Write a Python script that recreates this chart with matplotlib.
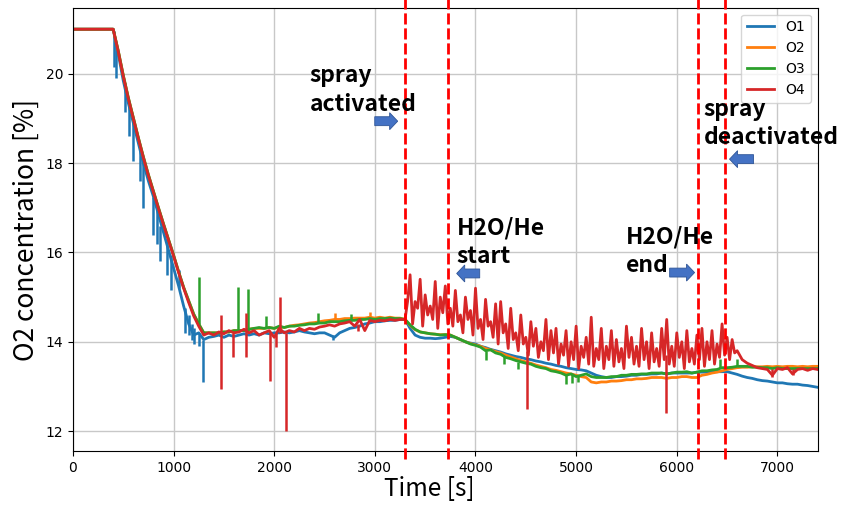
import numpy as np
import matplotlib
matplotlib.use('Agg')
import matplotlib.pyplot as plt
from matplotlib.patches import FancyArrow

# time grid of the sampled values (s)
t = np.arange(0, 7401, 50)
# extra red samples between the grid points in the noisy part
t_extra = np.arange(3325, 6600, 50)

flat = [21.0] * 9  # 0..400 s

# O1 (blue)
o1 = flat + [
    20.45, 19.85, 19.35, 18.9, 18.45, 18.0, 17.6, 17.25, 16.85, 16.45, 16.05, 15.65, 15.25, 14.8, 14.4, 14.15, 14.2, 14.05,
    14.1, 14.12, 14.15, 14.1, 14.15, 14.12, 14.15, 14.18, 14.15, 14.18,
    14.15, 14.2, 14.18, 14.2, 14.2, 14.22, 14.2, 14.22, 14.25, 14.22,
    14.2, 14.18, 14.2, 14.2, 14.15, 14.1, 14.2, 14.25, 14.3, 14.32,
    14.35, 14.4, 14.42, 14.45, 14.45, 14.47, 14.48, 14.48, 14.5,
    14.5, 14.3, 14.15, 14.1, 14.08, 14.08, 14.07, 14.08, 14.1, 14.12,
    14.1, 14.05, 14.0, 13.97, 13.95, 13.9, 13.87, 13.83, 13.8, 13.77,
    13.73, 13.7, 13.67, 13.65, 13.62, 13.6, 13.57, 13.55, 13.52, 13.5,
    13.47, 13.45, 13.42, 13.4, 13.38, 13.37, 13.35, 13.3, 13.25, 13.22,
    13.2, 13.2, 13.22, 13.22, 13.23, 13.25, 13.25, 13.27, 13.27, 13.28,
    13.28, 13.3, 13.28, 13.3, 13.3, 13.3, 13.3, 13.3, 13.32, 13.32,
    13.32, 13.33, 13.33, 13.33, 13.33, 13.3, 13.27,
    13.23, 13.2, 13.18, 13.15, 13.13, 13.12, 13.1, 13.08, 13.08, 13.06, 13.05, 13.05, 13.03, 13.02, 13.0, 12.98,
]

# O2 (orange)
o2 = flat + [
    20.52, 19.97, 19.47, 19.02, 18.57, 18.14, 17.74, 17.37, 17.0, 16.64, 16.29, 15.94, 15.57, 15.22, 14.92, 14.62, 14.4, 14.2,
    14.2, 14.2, 14.2, 14.22, 14.22, 14.25, 14.25, 14.25, 14.28, 14.3,
    14.3, 14.3, 14.32, 14.3, 14.33, 14.32, 14.35, 14.37, 14.38, 14.4,
    14.42, 14.43, 14.45, 14.47, 14.48, 14.5, 14.5, 14.52, 14.52, 14.53,
    14.53, 14.53, 14.55, 14.53, 14.55, 14.53, 14.55, 14.53, 14.53,
    14.5, 14.37, 14.27, 14.22, 14.2, 14.18, 14.17, 14.16, 14.16, 14.15,
    14.1, 14.05, 14.0, 13.96, 13.93, 13.9, 13.85, 13.82, 13.78, 13.75,
    13.7, 13.66, 13.62, 13.58, 13.55, 13.52, 13.48, 13.45, 13.42, 13.38,
    13.36, 13.33, 13.3, 13.28, 13.25, 13.22, 13.2, 13.1, 13.08, 13.1,
    13.1, 13.12, 13.12, 13.13, 13.15, 13.15, 13.17, 13.17, 13.18, 13.2,
    13.2, 13.2, 13.18, 13.2, 13.2, 13.22, 13.22, 13.2, 13.2, 13.25,
    13.27, 13.3, 13.32, 13.35, 13.38, 13.4, 13.42,
    13.43, 13.43, 13.44, 13.44, 13.44, 13.45, 13.44, 13.45, 13.44, 13.45, 13.45, 13.44, 13.45, 13.44, 13.45, 13.45,
]

# O3 (green)
o3 = flat + [
    20.52, 19.97, 19.47, 19.02, 18.57, 18.14, 17.74, 17.37, 17.0, 16.64, 16.29, 15.94, 15.57, 15.22, 14.92, 14.62, 14.4, 14.2,
    14.2, 14.2, 14.2, 14.22, 14.22, 14.25, 14.25, 14.25, 14.28, 14.3,
    14.32, 14.3, 14.32, 14.3, 14.35, 14.32, 14.35, 14.35, 14.37, 14.38,
    14.4, 14.4, 14.42, 14.42, 14.45, 14.45, 14.45, 14.47, 14.48, 14.48,
    14.5, 14.5, 14.52, 14.5, 14.52, 14.52, 14.53, 14.52, 14.52,
    14.5, 14.38, 14.28, 14.22, 14.2, 14.18, 14.17, 14.15, 14.16, 14.15,
    14.1, 14.05, 14.0, 13.95, 13.92, 13.88, 13.8, 13.82, 13.75, 13.72,
    13.65, 13.62, 13.58, 13.55, 13.52, 13.5, 13.45, 13.42, 13.4, 13.35,
    13.33, 13.3, 13.25, 13.28, 13.22, 13.25, 13.28, 13.22, 13.2, 13.2,
    13.2, 13.22, 13.22, 13.25, 13.25, 13.27, 13.27, 13.28, 13.28, 13.3,
    13.3, 13.3, 13.28, 13.3, 13.32, 13.32, 13.33, 13.3, 13.32, 13.35,
    13.35, 13.37, 13.38, 13.42, 13.42, 13.43, 13.45,
    13.45, 13.45, 13.43, 13.43, 13.42, 13.42, 13.4, 13.42, 13.4, 13.4, 13.4, 13.4, 13.4, 13.4, 13.4, 13.4,
]

# O4 (red)
o4 = flat + [
    20.5, 19.95, 19.45, 19.0, 18.55, 18.12, 17.72, 17.35, 16.98, 16.62, 16.27, 15.92, 15.55, 15.2, 14.88, 14.58, 14.35, 14.15,
    14.2, 14.15, 14.22, 14.18, 14.25, 14.2, 14.22, 14.28, 14.2, 14.25,
    14.15, 14.2, 14.25, 14.1, 14.3, 14.2, 14.25, 14.22, 14.3, 14.25,
    14.3, 14.28, 14.33, 14.35, 14.38, 14.35, 14.4, 14.42, 14.45, 14.35,
    14.5, 14.25, 14.48, 14.45, 14.48, 14.47, 14.5, 14.48, 14.5,
    14.5, 15.5, 14.9, 15.4, 15.05, 14.8, 15.35, 15.0, 15.25, 14.75,
    15.15, 14.6, 15.0, 14.7, 15.2, 14.5, 14.95, 14.45, 14.85, 14.9,
    14.4, 14.75, 14.2, 14.6, 14.1, 14.45, 14.3, 14.0, 14.5, 14.25,
    14.3, 13.95, 14.25, 14.0, 14.35, 13.9, 14.1, 14.55, 13.85, 14.3,
    13.9, 14.25, 14.05, 13.85, 14.35, 14.1, 13.9, 14.3, 14.0, 14.2,
    13.85, 14.3, 14.5, 13.9, 14.2, 14.0, 14.25, 13.85, 14.15, 14.3,
    14.0, 14.25, 13.95, 14.4, 14.1, 14.05, 13.8,
    13.6, 13.52, 13.47, 13.42, 13.4, 13.38, 13.25, 13.4, 13.38, 13.42, 13.28, 13.38, 13.4, 13.36, 13.4, 13.38,
]
o4_extra = [
    14.9, 14.4, 14.75, 14.35, 14.6, 14.5, 14.3, 14.65, 14.4, 14.35,
    14.45, 14.2, 14.5, 14.15, 14.3, 14.05, 14.35, 14.1, 13.95, 14.2,
    13.85, 14.05, 13.8, 13.95, 13.7, 13.9, 13.65, 13.8, 13.6, 13.75,
    13.5, 13.7, 13.45, 13.6, 13.4, 13.65, 13.5, 13.45, 13.6, 13.4,
    13.6, 13.45, 13.55, 13.4, 13.65, 13.5, 13.45, 13.6, 13.4, 13.55,
    13.45, 13.6, 13.5, 13.45, 13.65, 13.4, 13.55, 13.5, 13.6, 13.45,
    13.6, 13.5, 13.65, 13.7, 13.6, 13.75,
]

# single-sample spikes: time, one end, other end
o1_spk_t = [410, 430, 520, 560, 600, 665, 700, 800, 835, 870, 930, 970, 1050, 1110, 1150, 1180, 1200, 1250, 1295, 2582]
o1_spk_a = [20.15, 19.9, 19.15, 18.6, 18.05, 17.6, 17.0, 16.4, 16.2, 15.8, 15.5, 15.15, 15.2, 14.2, 14.15, 14.05, 13.95, 13.9, 13.1, 14.05]
o1_spk_b = [20.95, 20.7, 19.8, 19.35, 18.9, 18.35, 18.0, 17.25, 16.95, 16.6, 16.3, 15.95, 15.6, 14.75, 14.6, 14.4, 14.3, 14.2, 14.05, 14.15]

o2_spk_t = [2600, 2950]
o2_spk_a = [14.5, 14.53]
o2_spk_b = [14.65, 14.66]

o3_spk_t = [1250, 1640, 1735, 1917, 2440, 2760, 4100, 4280, 4420, 4900, 4960, 5020, 6210, 6430, 6600]
o3_spk_a = [14.4, 14.25, 14.25, 14.3, 14.42, 14.47, 13.6, 13.5, 13.4, 13.05, 13.08, 13.1, 13.18, 13.42, 13.45]
o3_spk_b = [15.45, 15.22, 15.18, 14.57, 14.65, 14.62, 13.8, 13.68, 13.55, 13.25, 13.28, 13.25, 13.32, 13.62, 13.62]

o4_spk_t = [1476, 1476, 1595, 1724, 1724, 1958, 2022, 2055, 2122, 2832, 4508, 5896, 6950, 7150]
o4_spk_a = [12.95, 14.2, 13.67, 13.65, 14.2, 13.12, 13.88, 14.2, 12.0, 14.25, 12.5, 12.4, 13.22, 13.25]
o4_spk_b = [14.2, 14.6, 14.2, 14.2, 14.65, 14.2, 14.2, 15.0, 14.2, 14.4, 13.8, 13.7, 13.4, 13.4]

event_times = [3300, 3730, 6215, 6480]

colors = ['#1f77b4', '#ff7f0e', '#2ca02c', '#d62728']

fig = plt.figure(figsize=(8.58, 5.18), dpi=100)
ax = fig.add_axes([0.085, 0.129, 0.868, 0.856])

# red series gets the in-between samples merged in
t4 = np.concatenate([t, t_extra])
v4 = np.concatenate([o4, o4_extra])
order = np.argsort(t4)

series = [
    ('O1', t, np.array(o1), o1_spk_t, o1_spk_a, o1_spk_b),
    ('O2', t, np.array(o2), o2_spk_t, o2_spk_a, o2_spk_b),
    ('O3', t, np.array(o3), o3_spk_t, o3_spk_a, o3_spk_b),
    ('O4', t4[order], v4[order], o4_spk_t, o4_spk_a, o4_spk_b),
]
for i, (name, tt, vv, st, sa, sb) in enumerate(series):
    ax.plot(tt, vv, color=colors[i], lw=2, label=name, zorder=2 + i * 0.1)
    ax.vlines(st, sa, sb, color=colors[i], lw=1.8, zorder=2 + i * 0.1)

ax.set_xlim(0, 7400)
ax.set_ylim(11.55, 21.48)
ax.set_xticks(range(0, 7001, 1000))
ax.set_yticks([12, 14, 16, 18, 20])
ax.grid(True, color='#c8c8c8', lw=1)
ax.tick_params(labelsize=10)

ax.set_xlabel('Time [s]', fontsize=17.5, family='Noto Sans CJK KR', labelpad=1)
ax.xaxis.label.set_x(0.479)
ax.set_ylabel('O2 concentration [%]', fontsize=19, family='Noto Sans CJK KR', labelpad=4)

ax.legend(loc='upper right', fontsize=10)

for x in event_times:
    ax.axvline(x, ymin=-0.017, ymax=1.02, clip_on=False, color='#ff0000',
               lw=2, ls=(0, (4, 1.4)), zorder=5)

# annotation text, one line per call, placed on baselines
annot = [
    ('spray', 2353, 19.82), ('activated', 2353, 19.17),
    ('spray', 6266, 19.06), ('deactivated', 6266, 18.43),
    ('H2O/He', 3813, 16.40), ('start', 3813, 15.77),
    ('H2O/He', 5498, 16.20), ('end', 5498, 15.56),
]
for txt, x, y in annot:
    ax.text(x, y, txt, fontsize=16.5, fontweight='bold', family='Noto Sans CJK KR',
            va='baseline', ha='left', color='black', zorder=6)

# blue block arrows: tail x, y, dx
arrows = [(2999, 18.94, 228), (4042, 15.53, -229), (5929, 15.55, 248), (6763, 18.09, -239)]
for x, y, dx in arrows:
    ax.add_patch(FancyArrow(x, y, dx, 0, width=0.2, head_width=0.38, head_length=80,
                            length_includes_head=True, facecolor='#4472c4',
                            edgecolor='#2f5597', lw=0.6, zorder=6))

fig.savefig('out.png', dpi=100)
